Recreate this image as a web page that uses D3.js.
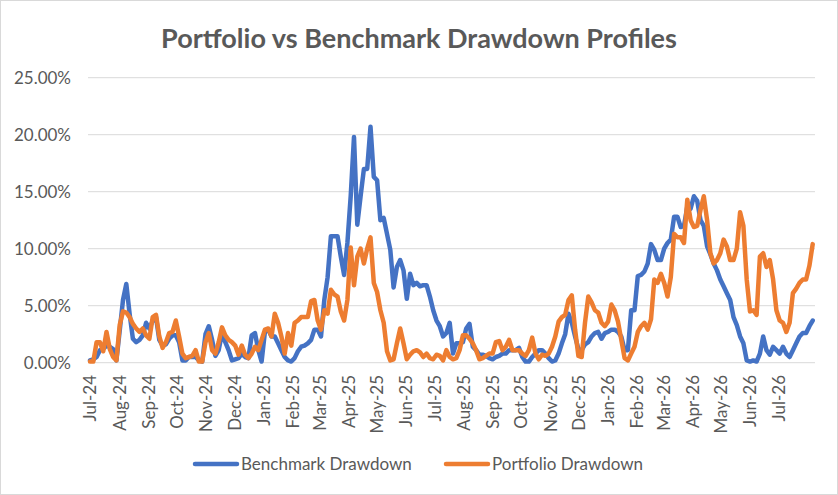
<!DOCTYPE html>
<html>
<head>
<meta charset="utf-8">
<script src="https://cdn.jsdelivr.net/npm/d3@7"></script>
<style>
  body { margin: 0; background: #fff; }
  svg { display: block; font-family: Lato, "Open Sans", sans-serif; }
</style>
</head>
<body>
<svg id="chart" width="838" height="495"></svg>
<script>
// twice-weekly readings (every 3.5 days), drawdown in %
const startDate = new Date(2024, 6, 1);

const benchmark = [
  0.2, 0.3, 0.5, 1.1, 1.2, 1.5, 1.4, 1.2, 0.2, 2.8,
  5.5, 6.9, 4.3, 2.1, 1.8, 2.0, 2.4, 3.5, 3.0, 3.7,
  4.0, 2.0, 1.5, 1.6, 2.1, 2.4, 2.4, 1.8, 0.2, 0.2,
  0.5, 0.5, 0.5, 0.2, 0.1, 2.5, 3.2, 2.0, 0.6, 1.1,
  2.6, 1.8, 1.1, 0.2, 0.3, 0.4, 0.8, 0.5, 0.4, 2.4,
  2.6, 1.1, 0.1, 2.7, 2.9, 2.3, 2.3, 1.7, 1.1, 0.5,
  0.2, 0.1, 0.4, 1.0, 1.4, 1.5, 1.7, 2.0, 2.9, 2.9,
  2.3, 5.5, 7.5, 11.1, 11.1, 11.1, 9.3, 7.7, 10.5, 14.6,
  19.8, 12.1, 14.6, 17.0, 17.0, 20.7, 16.3, 16.0, 12.5, 12.7,
  11.3, 9.9, 6.6, 8.4, 9.0, 8.1, 5.6, 7.8, 6.8, 7.0,
  6.7, 6.8, 6.8, 5.8, 4.6, 3.7, 3.2, 2.3, 2.6, 3.5,
  0.8, 1.7, 1.7, 1.8, 3.0, 3.4, 1.4, 1.1, 0.7, 0.7,
  0.6, 0.4, 0.3, 0.5, 0.6, 0.8, 0.8, 1.1, 1.1, 1.1,
  1.3, 0.5, 0.1, 0.1, 0.5, 0.8, 1.1, 1.1, 0.8, 0.4,
  0.1, 0.2, 0.8, 1.7, 2.5, 4.3, 3.5, 2.3, 1.2, 1.1,
  1.6, 1.8, 2.3, 2.6, 2.7, 2.1, 2.6, 2.7, 2.9, 2.9,
  2.7, 2.3, 1.1, 1.1, 4.6, 4.6, 7.6, 7.7, 8.0, 8.7,
  10.4, 9.9, 9.0, 9.0, 10.0, 10.5, 10.8, 12.8, 12.8, 11.9,
  12.0, 13.7, 13.5, 14.6, 14.2, 12.5, 12.0, 10.2, 9.5, 8.7,
  8.1, 7.3, 6.7, 6.1, 5.5, 4.0, 3.3, 2.3, 1.7, 0.2,
  0.1, 0.2, 0.1, 0.8, 2.3, 1.1, 0.7, 1.4, 1.1, 0.8,
  1.4, 0.8, 0.5, 1.1, 1.7, 2.3, 2.6, 2.6, 3.2, 3.7
];

const portfolio = [
  0.1, 0.1, 1.8, 1.8, 1.0, 2.7, 1.2, 0.5, 0.2, 3.3,
  4.5, 4.4, 4.0, 3.4, 3.0, 2.7, 3.0, 2.4, 2.1, 4.0,
  4.2, 2.3, 1.3, 1.8, 2.6, 2.7, 3.7, 2.3, 0.8, 0.4,
  0.5, 0.6, 1.1, 0.1, 0.1, 1.8, 2.6, 1.1, 0.8, 1.8,
  3.1, 2.4, 2.0, 1.8, 1.5, 0.7, 1.5, 0.7, 0.4, 0.8,
  1.4, 1.1, 2.0, 2.9, 3.0, 2.3, 4.3, 3.5, 2.3, 0.8,
  2.6, 1.5, 3.5, 3.7, 4.0, 4.0, 4.0, 5.4, 5.5, 3.7,
  2.9, 4.6, 4.3, 6.4, 6.0, 5.8, 4.5, 3.7, 5.5, 10.1,
  6.8, 9.3, 10.0, 8.7, 10.0, 11.0, 7.0, 6.2, 4.6, 3.5,
  1.0, 0.2, 0.3, 1.7, 3.0, 1.7, 0.3, 0.7, 1.0, 1.1,
  0.9, 0.5, 0.8, 0.4, 0.3, 0.7, 0.6, 0.2, 1.1, 0.5,
  0.3, 0.4, 1.1, 2.4, 2.4, 2.1, 1.7, 1.1, 0.3, 0.4,
  0.6, 0.8, 0.8, 1.8, 1.9, 1.1, 1.4, 2.0, 1.1, 1.1,
  1.1, 0.8, 0.6, 1.1, 2.2, 0.8, 0.3, 0.7, 0.6, 0.8,
  1.4, 2.3, 3.6, 4.0, 4.2, 5.5, 5.9, 2.9, 0.6, 0.5,
  3.5, 5.8, 5.3, 4.6, 4.4, 3.5, 3.2, 3.6, 5.1, 4.6,
  3.6, 2.0, 0.4, 0.2, 0.8, 1.4, 2.7, 3.2, 3.5, 2.9,
  3.8, 7.3, 7.0, 7.8, 7.0, 5.8, 7.5, 11.3, 11.0, 11.0,
  10.5, 14.3, 12.5, 11.9, 12.0, 13.4, 14.6, 12.5, 9.6, 8.7,
  9.0, 9.6, 10.8, 10.2, 9.0, 9.0, 10.0, 13.2, 12.0, 7.3,
  4.5, 4.6, 4.2, 9.3, 9.6, 8.4, 9.0, 7.3, 4.6, 3.7,
  3.5, 2.7, 3.5, 6.1, 6.5, 7.0, 7.3, 7.3, 8.5, 10.4
];

const dates = benchmark.map((d, i) => d3.timeHour.offset(startDate, i * 84));
const yTicks = [0, 5, 10, 15, 20, 25];
const monthTicks = d3.timeMonth.range(new Date(2024, 6, 1), new Date(2026, 6, 2));

const seriesNames = ['Benchmark Drawdown', 'Portfolio Drawdown'];
const seriesColors = ['#4472C4', '#ED7D31'];

const svg = d3.select('#chart');
const textColor = '#595959';
const gridColor = '#d9d9d9';

// chart border
svg.append('rect')
  .attr('x', 0.5).attr('y', 0.5)
  .attr('width', 837).attr('height', 494)
  .attr('fill', '#fff')
  .attr('stroke', gridColor);

const xScale = d3.scaleTime()
  .domain([dates[0], dates[dates.length - 1]])
  .range([90, 812.7]);

const yScale = d3.scaleLinear().domain([0, 25]).range([362.7, 77.7]);

// title
svg.append('text')
  .attr('x', 419).attr('y', 48)
  .attr('text-anchor', 'middle')
  .attr('fill', textColor)
  .style('font-size', '27px')
  .style('font-weight', 'bold')
  .text('Portfolio vs Benchmark Drawdown Profiles');

// gridlines
svg.append('g')
  .selectAll('line')
  .data(yTicks)
  .join('line')
  .attr('x1', 88).attr('x2', 815)
  .attr('y1', d => yScale(d)).attr('y2', d => yScale(d))
  .attr('stroke', gridColor)
  .attr('stroke-width', 1);

// y axis
const yAxis = svg.append('g')
  .attr('transform', 'translate(88,0)')
  .call(d3.axisLeft(yScale).tickValues(yTicks).tickSize(0).tickPadding(17)
    .tickFormat(d => d.toFixed(2) + '%'));
yAxis.select('.domain').remove();
yAxis.selectAll('text')
  .attr('fill', textColor)
  .style('font-family', 'Lato, "Open Sans", sans-serif')
  .style('font-size', '17px');

// x axis
const xAxis = svg.append('g')
  .attr('transform', 'translate(0,363)')
  .call(d3.axisBottom(xScale).tickValues(monthTicks).tickSize(0)
    .tickFormat(d3.timeFormat('%b-%y')));
xAxis.select('.domain').remove();
xAxis.selectAll('text')
  .attr('fill', textColor)
  .style('font-family', 'Lato, "Open Sans", sans-serif')
  .style('font-size', '17px')
  .attr('text-anchor', 'end')
  .attr('transform', 'translate(0,12) rotate(-90)')
  .attr('x', 0)
  .attr('y', 0)
  .attr('dy', '0.35em');

// lines
const line = d3.line()
  .x((d, i) => xScale(dates[i]))
  .y(d => yScale(d));

[benchmark, portfolio].forEach((values, k) => {
  svg.append('path')
    .datum(values)
    .attr('fill', 'none')
    .attr('stroke', seriesColors[k])
    .attr('stroke-width', 4.5)
    .attr('stroke-linejoin', 'round')
    .attr('stroke-linecap', 'round')
    .attr('d', line);
});

// legend
const legendX = [195, 446];
const legend = svg.append('g')
  .selectAll('g')
  .data(seriesNames)
  .join('g')
  .attr('transform', (d, i) => `translate(${legendX[i]},464)`);

legend.append('line')
  .attr('x1', 0).attr('x2', 42)
  .attr('stroke', (d, i) => seriesColors[i])
  .attr('stroke-width', 4.5)
  .attr('stroke-linecap', 'round');

legend.append('text')
  .attr('x', 46)
  .attr('dy', '0.35em')
  .attr('fill', textColor)
  .style('font-size', '17px')
  .text(d => d);
</script>
</body>
</html>
